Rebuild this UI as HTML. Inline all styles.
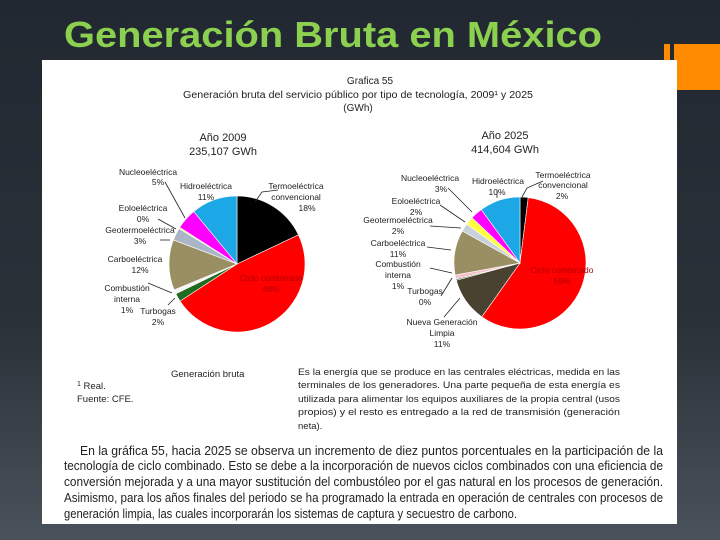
<!DOCTYPE html>
<html><head><meta charset="utf-8">
<style>
html,body{margin:0;padding:0;}
body{width:720px;height:540px;overflow:hidden;background:linear-gradient(#222831 0%,#2a3139 60%,#4a525b 100%);font-family:"Liberation Sans",sans-serif;}
svg{position:absolute;left:0;top:0;}
</style></head>
<body>
<svg id="s" width="720" height="540" viewBox="0 0 720 540">
  <text x="64" y="47" font-size="36" font-weight="bold" fill="#8cd04f" textLength="538" lengthAdjust="spacingAndGlyphs">Generación Bruta en México</text>
  <rect x="664" y="44" width="6" height="17" fill="#ff8c00"/>
  <rect x="674" y="44" width="46" height="46" fill="#ff8c00"/>
  <rect x="42" y="60" width="635" height="464" fill="#ffffff"/>

  <g font-size="10" fill="#222" text-anchor="middle">
    <text x="370" y="84">Grafica 55</text>
    <text x="358" y="98" textLength="350" lengthAdjust="spacingAndGlyphs">Generación bruta del servicio público por tipo de tecnología, 2009¹ y 2025</text>
    <text x="358" y="111">(GWh)</text>
  </g>

  <g id="p1"></g>
  <g id="p2"></g>

  <g font-size="8.5" fill="#222" text-anchor="middle">
    <text x="223" y="141" font-size="11">Año 2009</text>
    <text x="223" y="155" font-size="11">235,107 GWh</text>
    <text x="148" y="175">Nucleoeléctrica</text><text x="158" y="185">5%</text>
    <text x="206" y="189">Hidroeléctrica</text><text x="206" y="200">11%</text>
    <text x="296" y="189">Termoeléctrica</text><text x="296" y="200">convencional</text><text x="307" y="211">18%</text>
    <text x="143" y="211">Eoloeléctrica</text><text x="143" y="222">0%</text>
    <text x="140" y="233">Geotermoeléctrica</text><text x="140" y="244">3%</text>
    <text x="135" y="262">Carboeléctrica</text><text x="140" y="273">12%</text>
    <text x="127" y="291">Combustión</text><text x="127" y="302">interna</text><text x="127" y="313">1%</text>
    <text x="158" y="314">Turbogas</text><text x="158" y="325">2%</text>
    <text x="271" y="281" fill="#b00000">Ciclo combinado</text><text x="271" y="292" fill="#b00000">48%</text>
  </g>
  <g stroke="#222" stroke-width="0.8" fill="none">
    <polyline points="165,182 185,218"/>
    <polyline points="158,219 176,229"/>
    <polyline points="160,240 170,240"/>
    <polyline points="148,283 172,293"/>
    <polyline points="168,305 175,298"/>
    <polyline points="278,190 262,192 255,202"/>
  </g>

  <g font-size="8.5" fill="#222" text-anchor="middle">
    <text x="505" y="139" font-size="11">Año 2025</text>
    <text x="505" y="153" font-size="11">414,604 GWh</text>
    <text x="430" y="181">Nucleoeléctrica</text><text x="441" y="192">3%</text>
    <text x="498" y="184">Hidroeléctrica</text><text x="497" y="195">10%</text>
    <text x="563" y="178">Termoeléctrica</text><text x="563" y="188">convencional</text><text x="562" y="199">2%</text>
    <text x="416" y="204">Eoloeléctrica</text><text x="416" y="215">2%</text>
    <text x="398" y="223">Geotermoeléctrica</text><text x="398" y="234">2%</text>
    <text x="398" y="246">Carboeléctrica</text><text x="398" y="257">11%</text>
    <text x="398" y="267">Combustión</text><text x="398" y="278">interna</text><text x="398" y="289">1%</text>
    <text x="425" y="294">Turbogas</text><text x="425" y="305">0%</text>
    <text x="442" y="325">Nueva Generación</text><text x="442" y="336">Limpia</text><text x="442" y="347">11%</text>
    <text x="562" y="273" fill="#b00000">Ciclo combinado</text><text x="562" y="284" fill="#b00000">59%</text>
  </g>
  <g stroke="#222" stroke-width="0.8" fill="none">
    <polyline points="448,188 472,212"/>
    <polyline points="440,205 465,222"/>
    <polyline points="430,226 461,228"/>
    <polyline points="427,247 451,250"/>
    <polyline points="430,268 452,273"/>
    <polyline points="441,296 452,278"/>
    <polyline points="444,317 460,298"/>
    <polyline points="497,190 497,198"/>
    <polyline points="543,181 527,188 522,197"/>
  </g>

  <g font-size="9.5" fill="#222">
    <text x="171" y="377">Generación bruta</text>
    <text x="77" y="389"><tspan font-size="7" dy="-3">1</tspan><tspan dy="3"> Real.</tspan></text>
    <text x="77" y="402">Fuente: CFE.</text>
    <text x="298" y="375" textLength="322" lengthAdjust="spacingAndGlyphs">Es la energía que se produce en las centrales eléctricas, medida en las</text>
    <text x="298" y="388" textLength="322" lengthAdjust="spacingAndGlyphs">terminales de los generadores. Una parte pequeña de esta energía es</text>
    <text x="298" y="402" textLength="322" lengthAdjust="spacingAndGlyphs">utilizada para alimentar los equipos auxiliares de la propia central (usos</text>
    <text x="298" y="415" textLength="322" lengthAdjust="spacingAndGlyphs">propios) y el resto es entregado a la red de transmisión (generación</text>
    <text x="298" y="429">neta).</text>
  </g>
  <g font-size="12.5" fill="#222">
    <text x="80" y="455" textLength="583" lengthAdjust="spacingAndGlyphs">En la gráfica 55, hacia 2025 se observa un incremento de diez puntos porcentuales en la participación de la</text>
    <text x="64" y="470" textLength="599" lengthAdjust="spacingAndGlyphs">tecnología de ciclo combinado. Esto se debe a la incorporación de nuevos ciclos combinados con una eficiencia de</text>
    <text x="64" y="486" textLength="599" lengthAdjust="spacingAndGlyphs">conversión mejorada y a una mayor sustitución del combustóleo por el gas natural en los procesos de generación.</text>
    <text x="64" y="502" textLength="599" lengthAdjust="spacingAndGlyphs">Asimismo, para los años finales del periodo se ha programado la entrada en operación de centrales con procesos de</text>
    <text x="64" y="518" textLength="453" lengthAdjust="spacingAndGlyphs">generación limpia, las cuales incorporarán los sistemas de captura y secuestro de carbono.</text>
  </g>
</svg>
<script>
const cats2009 = ["Termoeléctrica convencional","Ciclo combinado","Turbogas","Combustión interna","Carboeléctrica","Geotermoeléctrica","Eoloeléctrica","Nucleoeléctrica","Hidroeléctrica"];
const vals2009 = [18,48,2,1,12,3,0.3,5,11];
const cols2009 = ["#000000","#ff0000","#1f6b1f","#f4f4f4","#9a8f62","#aab6c8","#ffff40","#ff00ff","#1ca8e6"];
const cats2025 = ["Termoeléctrica convencional","Ciclo combinado","Nueva Generación Limpia","Turbogas","Combustión interna","Carboeléctrica","Geotermoeléctrica","Eoloeléctrica","Nucleoeléctrica","Hidroeléctrica"];
const vals2025 = [2,58,11,0.3,1,11,2,2,3,10];
const cols2025 = ["#000000","#ff0000","#4a4230","#1f6b1f","#f4c0cc","#9a8f62","#c8d0dc","#ffff40","#ff00ff","#1ca8e6"];

function drawPie(gid, cats, vals, cols, cx, cy, r) {
  const g = document.getElementById(gid);
  const total = vals.reduce((a,b)=>a+b,0);
  let a0 = -Math.PI/2;
  const ns = "http://www.w3.org/2000/svg";
  vals.forEach((v,i)=>{
    const a1 = a0 + v/total*2*Math.PI;
    const x0 = cx + r*Math.cos(a0), y0 = cy + r*Math.sin(a0);
    const x1 = cx + r*Math.cos(a1), y1 = cy + r*Math.sin(a1);
    const large = (a1-a0) > Math.PI ? 1 : 0;
    const p = document.createElementNS(ns,"path");
    p.setAttribute("d",`M${cx},${cy} L${x0},${y0} A${r},${r} 0 ${large} 1 ${x1},${y1} Z`);
    p.setAttribute("fill",cols[i]);
    p.setAttribute("stroke","#ffffff");
    p.setAttribute("stroke-width","0.6");
    
    
    g.appendChild(p);
    a0 = a1;
  });
}
drawPie("p1", cats2009, vals2009, cols2009, 237, 264, 68);
drawPie("p2", cats2025, vals2025, cols2025, 520, 263, 66);
</script>
</body></html>
